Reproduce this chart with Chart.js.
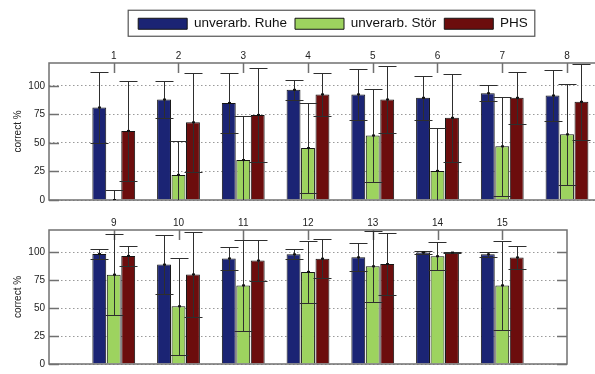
<!DOCTYPE html>
<html><head><meta charset="utf-8">
<script src="https://cdn.jsdelivr.net/npm/chart.js@4.4.1/dist/chart.umd.min.js"></script>
<style>
html,body{margin:0;padding:0;width:595px;height:374px;overflow:hidden;background:#fff;}
#c1{position:absolute;left:0;top:0;}
#c2{position:absolute;left:0;top:212px;}
</style></head><body>
<canvas id="c1" width="666" height="210"></canvas>
<canvas id="c2" width="600" height="162"></canvas>
<script>
// ---- data ----
const seriesNames = ['unverarb. Ruhe', 'unverarb. Stör', 'PHS'];
const topCats = [1, 2, 3, 4, 5, 6, 7, 8];
const bottomCats = [9, 10, 11, 12, 13, 14, 15];
const yTicks = [0, 25, 50, 75, 100];

const ruheTop      = [81, 88, 85, 96.5, 92.5, 89.5, 93.5, 91.5];
const ruheTopErr   = [31, 16, 26.5, 8.5, 22, 19.5, 7, 22.5];
const stoerTop     = [0, 22, 35, 45.5, 56.5, 25.5, 47, 57.5];
const stoerTopErr  = [9, 30, 39, 39.5, 41, 37.5, 43.5, 44.5];
const phsTop       = [60.5, 68, 74.5, 92.5, 88, 72, 89.5, 86];
const phsTopErr    = [43.5, 43.5, 41.5, 18.5, 29, 38.5, 23, 33.5];

const ruheBottom     = [98.5, 89, 94.5, 98.2, 95.5, 99.8, 98.2];
const ruheBottomErr  = [4.8, 26.3, 10, 4.5, 12.6, 1.5, 2.4];
const stoerBottom    = [80, 51.7, 70.4, 82.5, 87.5, 96.5, 70.4];
const stoerBottomErr = [36, 43.4, 41, 27.5, 31.7, 12.7, 40];
const phsBottom      = [96.8, 80.2, 92.6, 94.3, 89.5, 99.8, 95.4];
const phsBottomErr   = [8.8, 38, 18, 17.5, 27.5, 0.5, 10.4];

const colors = ['#1b2474', '#9dd35f', '#6c0d0d'];
const FONT = 'Liberation Sans, Arial, Helvetica, sans-serif';

// ---- plugins ----
const errorBars = {
  id: 'errorBars',
  afterDatasetsDraw(chart) {
    const {ctx, chartArea: a, scales: {y}} = chart;
    ctx.save();
    ctx.beginPath(); ctx.rect(a.left, a.top - 1, a.width, a.height + 1); ctx.clip();
    ctx.strokeStyle = '#2e2e2e'; ctx.lineWidth = 1;
    chart.data.datasets.forEach((ds, di) => {
      const meta = chart.getDatasetMeta(di);
      meta.data.forEach((bar, i) => {
        const v = ds.data[i].y, e = ds.errors[i];
        const x = Math.round(bar.x) + 0.5;
        const yt = Math.round(y.getPixelForValue(v + e)) + 0.5;
        const yb = Math.round(y.getPixelForValue(v - e)) + 0.5;
        const hw = 9;
        ctx.beginPath();
        ctx.moveTo(x, yt); ctx.lineTo(x, yb);
        ctx.moveTo(x - hw, yt); ctx.lineTo(x + hw, yt);
        ctx.moveTo(x - hw, yb); ctx.lineTo(x + hw, yb);
        ctx.stroke();
        ctx.fillStyle = '#111';
        ctx.fillRect(x - 1.5, y.getPixelForValue(v) - 1, 3, 2);
      });
    });
    ctx.restore();
  }
};

const frame = {
  id: 'frame',
  afterDatasetsDraw(chart) {
    const {ctx, chartArea: a, scales: {x, y}} = chart;
    ctx.save();
    ctx.strokeStyle = '#707070'; ctx.lineWidth = 1.5;
    ctx.strokeRect(a.left, a.top, a.width, a.height);
    ctx.beginPath();
    y.ticks.forEach(t => {
      const py = Math.round(y.getPixelForValue(t.value)) + 0.5;
      ctx.moveTo(a.left, py); ctx.lineTo(a.left + 10, py);
      ctx.moveTo(a.right, py); ctx.lineTo(a.right - 10, py);
    });
    x.ticks.forEach(t => {
      const px = Math.round(x.getPixelForValue(t.value)) + 0.5;
      ctx.moveTo(px, a.top); ctx.lineTo(px, a.top + 10);
    });
    ctx.stroke();
    ctx.restore();
  }
};

const legendBox = {
  id: 'legendBox',
  afterDraw(chart) {
    const lg = chart.legend;
    if (!lg || !lg.legendHitBoxes || !lg.legendHitBoxes.length) return;
    const hb = lg.legendHitBoxes;
    const last = hb[hb.length - 1];
    const boxTop = hb[0].top + (hb[0].height - 11) / 2;
    const ctx = chart.ctx;
    ctx.save();
    ctx.strokeStyle = '#555'; ctx.lineWidth = 1.2;
    ctx.strokeRect(hb[0].left - 10, boxTop - 8, last.left + last.width + 7 - (hb[0].left - 10), 11 + 15);
    ctx.restore();
  }
};

// ---- builder ----
function makeDatasets(cats, vals, errs) {
  return vals.map((arr, k) => ({
    label: seriesNames[k],
    data: cats.map((c, i) => ({x: c, y: arr[i]})),
    errors: errs[k],
    backgroundColor: colors[k],
    borderColor: '#151515',
    borderWidth: 1,
    categoryPercentage: 0.67,
    barPercentage: 0.96
  }));
}

function makeOptions(cats, xmin, xmax, xHeight, pad, showLegend) {
  return {
    responsive: false,
    animation: false,
    devicePixelRatio: 1,
    layout: {padding: pad},
    plugins: {
      legend: {
        display: showLegend,
        position: 'top',
        labels: {
          boxWidth: 49, boxHeight: 11, padding: 8,
          color: '#111',
          font: {size: 13.5, family: FONT}
        }
      },
      tooltip: {enabled: false}
    },
    scales: {
      x: {
        type: 'linear', position: 'top', min: xmin, max: xmax, offset: false,
        grid: {display: false, drawTicks: false, offset: false},
        border: {display: false},
        afterBuildTicks: s => { s.ticks = cats.map(v => ({value: v})); },
        afterFit: s => { s.height = xHeight; },
        ticks: {
          autoSkip: false, maxRotation: 0, padding: 1,
          color: '#222', font: {size: 10, family: FONT},
          callback: v => String(v)
        }
      },
      y: {
        min: 0, max: 120,
        afterBuildTicks: s => { s.ticks = yTicks.map(v => ({value: v})); },
        afterFit: s => { s.width = 49; },
        grid: {color: '#9a9a9a', lineWidth: 1, drawTicks: false},
        border: {display: false, dash: [1.5, 2.5]},
        ticks: {padding: 4, color: '#222', font: {size: 10, family: FONT}},
        title: {
          display: true, text: 'correct %', color: '#222',
          font: {size: 10, family: FONT}, padding: {top: 12, bottom: 0}
        }
      }
    }
  };
}

new Chart(document.getElementById('c1'), {
  type: 'bar',
  data: {datasets: makeDatasets(topCats, [ruheTop, stoerTop, phsTop], [ruheTopErr, stoerTopErr, phsTopErr])},
  options: makeOptions(topCats, 0, 9.529, 22.5, {top: 9, left: 0, right: 0, bottom: 4}, true),
  plugins: [frame, errorBars, legendBox]
});

new Chart(document.getElementById('c2'), {
  type: 'bar',
  data: {datasets: makeDatasets(bottomCats, [ruheBottom, stoerBottom, phsBottom], [ruheBottomErr, stoerBottomErr, phsBottomErr])},
  options: makeOptions(bottomCats, 8, 16, 18, {top: 0, left: 0, right: 33, bottom: 2}, false),
  plugins: [frame, errorBars]
});
</script>
</body></html>
